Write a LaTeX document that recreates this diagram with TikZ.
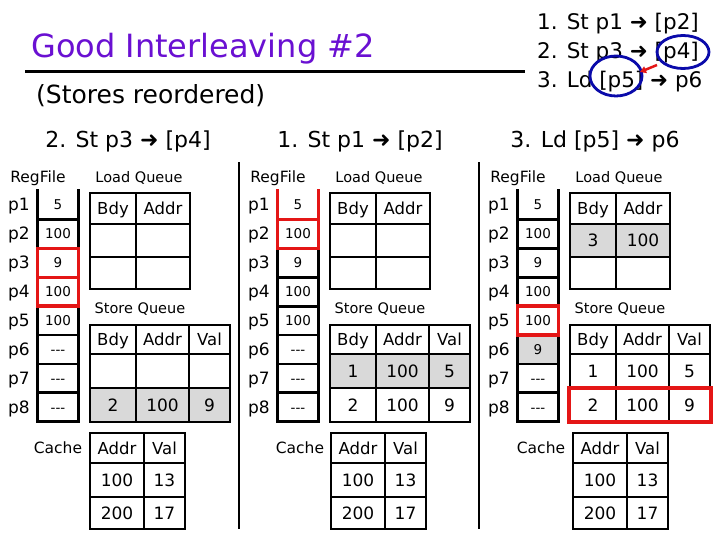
\documentclass[tikz,border=0pt]{standalone}
\usepackage{fontspec}
\setmainfont{DejaVu Sans}
\usetikzlibrary{arrows.meta}
\definecolor{ttl}{RGB}{106,16,210}
\definecolor{cbl}{RGB}{10,10,170}
\definecolor{hred}{RGB}{228,22,22}
\definecolor{cellgray}{RGB}{217,217,217}
\newcommand\fs[1]{\fontsize{#1}{#1}\selectfont}
\newcommand\ddd{-{}-{}-}
\tikzset{
  grid/.style={line width=2.8pt, line cap=rect},
  hl/.style={draw=hred, line width=3.4pt, line cap=rect},
  rv/.style={inner sep=0pt, font=\fs{13.5}, text height=10pt, text depth=0pt},
  rl/.style={inner sep=0pt, font=\fs{17}, text height=12pt, text depth=0pt},
  lb/.style={inner sep=0pt, font=\fs{14.5}, text height=10.5pt, text depth=0pt},
  lbb/.style={inner sep=0pt, font=\fs{15.5}, text height=11.5pt, text depth=0pt},
  hd/.style={inner sep=0pt, font=\fs{16.5}, text height=12pt, text depth=0pt},
  tv/.style={inner sep=0pt, font=\fs{17}, text height=12.5pt, text depth=0pt},
  ph/.style={inner sep=0pt, font=\fs{22}, text height=16pt, text depth=0pt},
  li/.style={inner sep=0pt, anchor=base west, font=\fs{21.5}},
}
% register file column
\newcommand\regfile[2]{%
  \foreach \v [count=\i] in {#2} {
    \node[rv] (#1r\i) at (58,{190.5+28.9*(\i-0.5)}) {\v};
    \node[rl] (#1p\i) at (19,{190.5+28.9*(\i-0.5)}) {p\i};
  }
  \draw[grid] (37.5,190.5) -- (37.5,421.7) -- (78.5,421.7) -- (78.5,190.5);
  \foreach \k in {1,...,7} \draw[grid] (37.5,{190.5+28.9*\k}) -- (78.5,{190.5+28.9*\k});
  \node[lbb] (#1rf) at (38,177) {RegFile};
}
% load queue
\newcommand\loadq[5]{%
  \node[lb] (#1lql) at (139,177) {Load Queue};
  \node[hd] (#1lqh1) at (113,208.5) {Bdy};
  \node[hd] (#1lqh2) at (163,208.5) {Addr};
  \node[tv] (#1lq11) at (113,240.5) {#2};
  \node[tv] (#1lq12) at (163,240.5) {#3};
  \node[tv] (#1lq21) at (113,273) {#4};
  \node[tv] (#1lq22) at (163,273) {#5};
  \draw[grid] (90,193) rectangle (190,289);
  \draw[grid] (136,193) -- (136,289) (90,224) -- (190,224) (90,257) -- (190,257);
}
% store queue
\newcommand\storeq[7]{%
  \node[lb] (#1sql) at (140,308) {Store Queue};
  \node[hd] (#1sqh1) at (113,339.5) {Bdy};
  \node[hd] (#1sqh2) at (162.5,339.5) {Addr};
  \node[hd] (#1sqh3) at (209.5,339.5) {Val};
  \node[tv] (#1sq11) at (113,371) {#2};
  \node[tv] (#1sq12) at (162.5,371) {#3};
  \node[tv] (#1sq13) at (209.5,371) {#4};
  \node[tv] (#1sq21) at (113,405) {#5};
  \node[tv] (#1sq22) at (162.5,405) {#6};
  \node[tv] (#1sq23) at (209.5,405) {#7};
  \draw[grid] (90,325) rectangle (230,422);
  \draw[grid] (136,325) -- (136,422) (189,325) -- (189,422) (90,354) -- (230,354) (90,388) -- (230,388);
}
% cache
\newcommand\cache[3]{%
  \node[lbb] (#1cl) at (#3,448) {Cache};
  \node[hd] (#1ch1) at ({#2+27},448) {Addr};
  \node[hd] (#1ch2) at ({#2+74.5},448) {Val};
  \node[tv] (#1c11) at ({#2+27},480) {100};
  \node[tv] (#1c12) at ({#2+74.5},480) {13};
  \node[tv] (#1c21) at ({#2+27},513) {200};
  \node[tv] (#1c22) at ({#2+74.5},513) {17};
  \draw[grid] (#2,433) rectangle ({#2+95},529);
  \draw[grid] ({#2+54},433) -- ({#2+54},529) (#2,463) -- ({#2+95},463) (#2,497) -- ({#2+95},497);
}
\begin{document}
\begin{tikzpicture}[x=1pt,y=-1pt]
\useasboundingbox (0,0) rectangle (720,540);
\fill[white] (0,0) rectangle (720,540);

% title
\node[inner sep=0pt, anchor=base west, font=\fs{32}, text=ttl] (title) at (31,58) {Good Interleaving \#2};
\draw[line width=3pt] (25,72) -- (525,72);
\node[inner sep=0pt, anchor=base west, font=\fs{25}] (sub) at (36,104) {(Stores reordered)};

% instruction list
\node[li] (i1) at (537,30) {1. St p1 ➜ [p2]};
\node[li] (i2) at (537,59) {2. St p3 ➜ [p4]};
\node[li] (i3) at (537,88) {3. Ld [p5] ➜ p6};
\draw[cbl, line width=2.8pt] (683,52) ellipse [x radius=26, y radius=16.5];
\draw[cbl, line width=2.8pt] (616,76) ellipse [x radius=26, y radius=20];
\coordinate (rfrom) at (657,65);
\coordinate (rto) at (640,72);
\draw[hred, line width=2.5pt, -{Triangle[length=6pt,width=7pt]}] (rfrom) -- (rto);

% separators
\draw[grid] (239,163) -- (239,528);
\draw[grid] (479,163) -- (479,528);

% panel headers
\node[ph] (h1) at (128,140) {2. St p3 ➜ [p4]};
\node[ph] (h2) at (360,140) {1. St p1 ➜ [p2]};
\node[ph] (h3) at (595,140) {3. Ld [p5] ➜ p6};

% ---------- panel 1
\begin{scope}
  \fill[cellgray] (90,388) rectangle (230,422);
  \regfile{a}{5,100,9,100,100,\ddd,\ddd,\ddd}
  \loadq{a}{}{}{}{}
  \storeq{a}{}{}{}{2}{100}{9}
  \cache{a}{90}{58}
  \draw[hl] (37.5,248.3) rectangle (78.5,306.1);
  \draw[hl] (37.5,277.2) -- (78.5,277.2);
\end{scope}

% ---------- panel 2
\begin{scope}[xshift=240pt]
  \fill[cellgray] (90,354) rectangle (230,388);
  \regfile{b}{5,100,9,100,100,\ddd,\ddd,\ddd}
  \loadq{b}{}{}{}{}
  \storeq{b}{1}{100}{5}{2}{100}{9}
  \cache{b}{91}{60}
  \draw[hl] (37.5,190.5) -- (37.5,248.3) -- (78.5,248.3) -- (78.5,190.5);
  \draw[hl] (37.5,219.4) -- (78.5,219.4);
\end{scope}

% ---------- panel 3
\begin{scope}[xshift=480pt]
  \fill[cellgray] (37.5,335) rectangle (78.5,363.9);
  \fill[cellgray] (90,224) rectangle (190,257);
  \regfile{c}{5,100,9,100,100,9,\ddd,\ddd}
  \loadq{c}{3}{100}{}{}
  \storeq{c}{1}{100}{5}{2}{100}{9}
  \cache{c}{93}{61}
  \draw[hl] (37.5,306.1) rectangle (78.5,335);
  \draw[hl] (89,388) rectangle (231,422);
\end{scope}
\end{tikzpicture}
\end{document}
